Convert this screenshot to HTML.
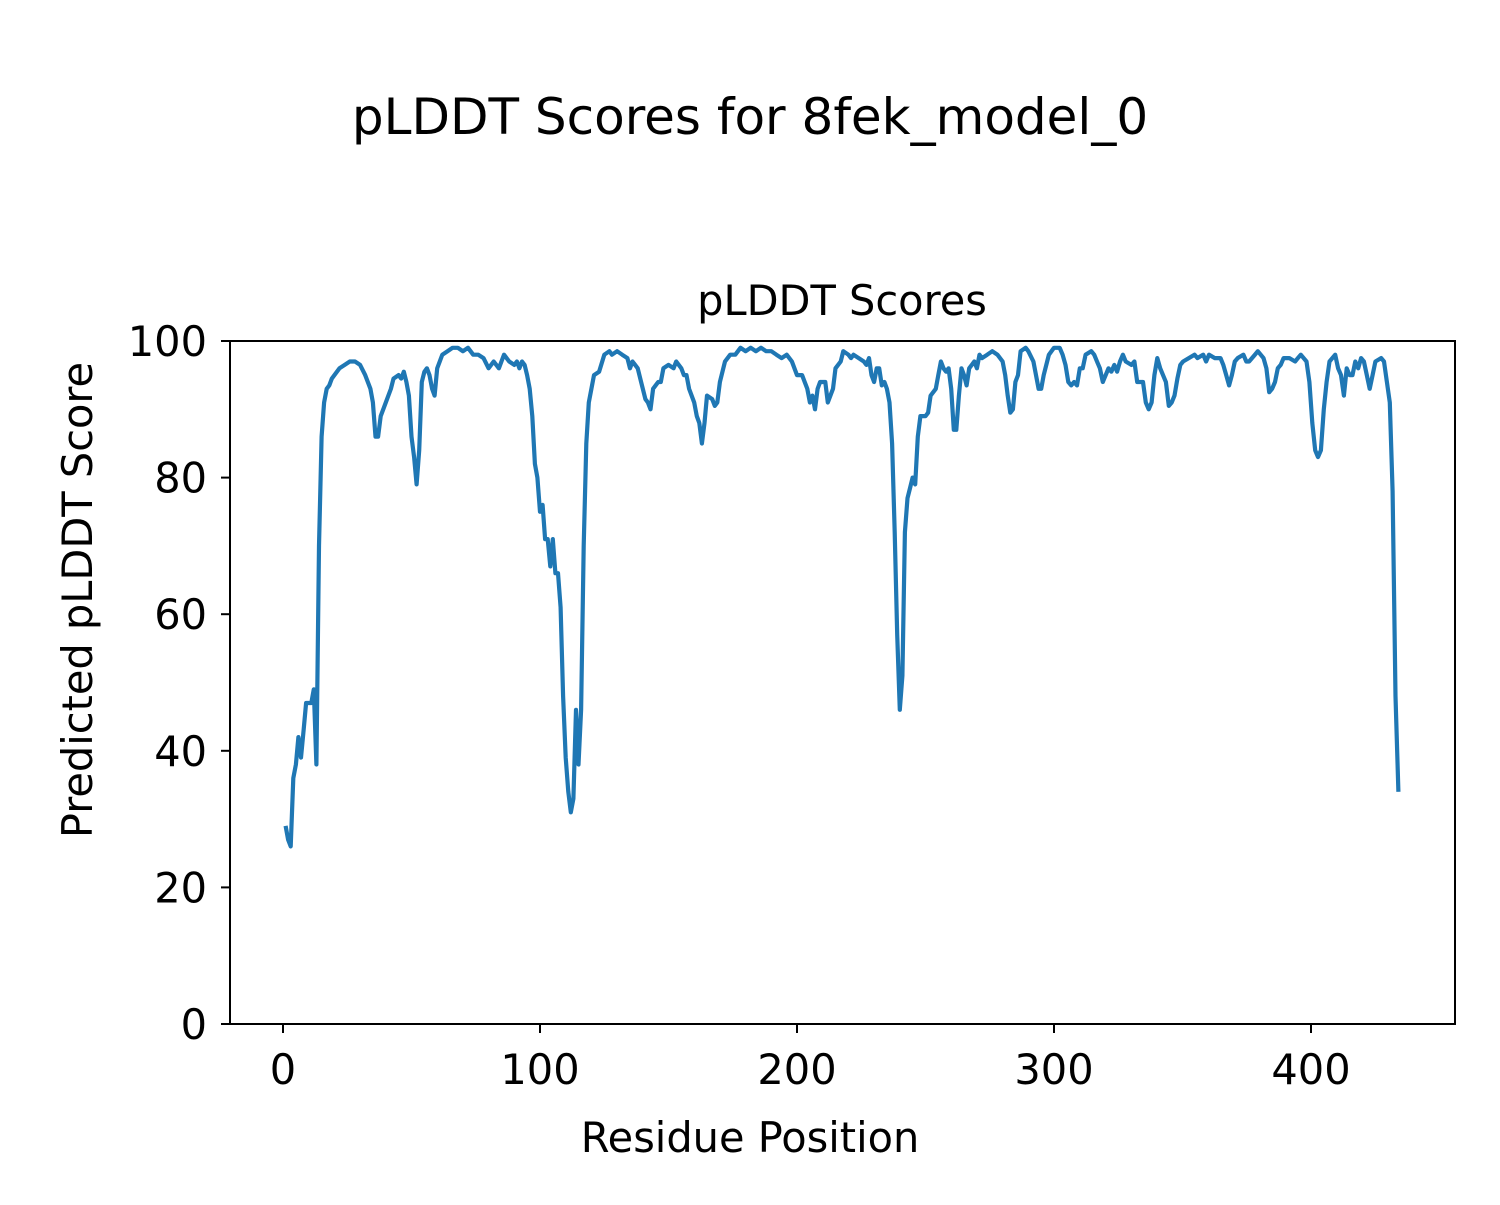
<!DOCTYPE html>
<html><head><meta charset="utf-8"><style>
html,body{margin:0;padding:0;background:#fff;}
svg text{font-family:"DejaVu Sans","Liberation Sans",sans-serif;fill:#000;}
</style></head><body>
<svg id="s" width="1500" height="1200" viewBox="0 0 1500 1200" xmlns="http://www.w3.org/2000/svg">
<rect width="1500" height="1200" fill="#fff"/>
<text x="750" y="134" font-size="50" text-anchor="middle">pLDDT Scores for 8fek_model_0</text>
<text x="842" y="315" font-size="41.5" text-anchor="middle">pLDDT Scores</text>
<g id="ticks" stroke="#000" stroke-width="2"></g>
<g id="labels" font-size="41.5"></g>
<polyline id="line" fill="none" stroke="#1f77b4" stroke-width="4.2" stroke-linejoin="round"/>
<rect x="230" y="341" width="1225" height="683" fill="none" stroke="#000" stroke-width="2"/>
<text x="750" y="1152" font-size="41.5" text-anchor="middle">Residue Position</text>
<text transform="translate(92,600) rotate(-90)" font-size="41.5" text-anchor="middle">Predicted pLDDT Score</text>
</svg>
<script>
var d=[1,29,2,27,3,26,4,36,5,38,6,42,7,39,8,43,9,47,10,47,11,47,12,49,13,38,14,70,15,86,16,91,17,93,18,93.5,19,94.5,20,95,22,96,24,96.5,26,97,28,97,30,96.5,32,95,34,93,35,91,36,86,37,86,38,89,40,91,42,93,43,94.5,45,95,46,94.5,47,95.5,48,94,49,92,50,86,51,83,52,79,53,84,54,94,55,95.5,56,96,57,95,58,93,59,92,60,96,62,98,64,98.5,66,99,68,99,70,98.5,72,99,74,98,76,98,78,97.5,80,96,82,97,84,96,86,98,88,97,90,96.5,91,97,92,96,93,97,94,96.5,95,95,96,93,97,89,98,82,99,80,100,75,101,76,102,71,103,71,104,67,105,71,106,66,107,66,108,61,109,48,110,39,111,34,112,31,113,33,114,46,115,38,116,46,117,70,118,85,119,91,120,93,121,95,123,95.5,125,98,127,98.5,128,98,130,98.5,132,98,134,97.5,135,96,136,97,138,96,140,93,141,91.5,142,91,143,90,144,93,146,94,147,94,148,96,150,96.5,152,96,153,97,155,96,156,95,157,95,158,93,160,91,161,89,162,88,163,85,164,88,165,92,167,91.5,168,90.5,169,91,170,94,172,97,174,98,176,98,178,99,180,98.5,182,99,184,98.5,186,99,188,98.5,190,98.5,192,98,194,97.5,196,98,198,97,200,95,202,95,203,94,204,93,205,91,206,92,207,90,208,93,209,94,211,94,212,91,213,92,214,93,215,96,217,97,218,98.5,220,98,221,97.5,222,98,224,97.5,226,97,227,96.5,228,97.5,229,95,230,94,231,96,232,96,233,93.5,234,94,235,93,236,91,237,85,238,72,239,57,240,46,241,51,242,72,243,77,244,78.5,245,80,246,79,247,86,248,89,250,89,251,89.5,252,92,254,93,255,95,256,97,257,96,258,95.5,259,96,260,93,261,87,262,87,263,92,264,96,265,95,266,93.5,267,96,268,96.5,269,97,270,96,271,98,272,97.5,274,98,276,98.5,278,98,280,97,281,95,282,92,283,89.5,284,90,285,94,286,95,287,98.5,289,99,290,98.5,292,97,294,93,295,93,296,95,298,98,300,99,302,99,303,98,304,96.5,305,94,306,93.5,307,94,308,93.5,309,96,310,96,311,98,313,98.5,314,98,315,97,316,96,317,94,318,95,319,96,320,95.5,321,96.5,322,95.5,323,97,324,98,325,97,327,96.5,328,97,329,94,331,94,332,91,333,90,334,91,335,95,336,97.5,337,96,339,94,340,90.5,341,91,342,92,343,94.5,344,96.5,345,97,347,97.5,349,98,350,97.5,352,98,353,97,354,98,356,97.5,358,97.5,359,96.5,360,95,361,93.5,362,95,363,97,364,97.5,366,98,367,97,368,97,370,98,371,98.5,373,97.5,374,96,375,92.5,376,93,377,94,378,96,379,96.5,380,97.5,382,97.5,384,97,385,97.5,386,98,388,97,389,94,390,88,391,84,392,83,393,84,394,90,395,94,396,97,398,98,399,96,400,95,401,92,402,96,403,95,404,95,405,97,406,96,407,97.5,408,97,409,95,410,93,411,95,412,97,414,97.5,415,97,416,94,417,91,418,78,419,48,420,34];
var p=[];
for(var i=0;i<d.length;i+=2){var t=d[i];if(t>300)t=300+(t-300)*134/120;p.push((283+t*2.57).toFixed(1)+","+(1024-d[i+1]*6.83).toFixed(1));}
document.getElementById('line').setAttribute('points',p.join(' '));
var ns="http://www.w3.org/2000/svg",tk=document.getElementById('ticks'),lb=document.getElementById('labels');
function mk(tag,a,par,txt){var e=document.createElementNS(ns,tag);for(var k in a)e.setAttribute(k,a[k]);if(txt!=null)e.textContent=txt;par.appendChild(e);}
for(var v=0;v<=400;v+=100){var x=283+v*2.57;mk('line',{x1:x,y1:1024,x2:x,y2:1033},tk);mk('text',{x:x,y:1084,'text-anchor':'middle'},lb,v);}
for(var v=0;v<=100;v+=20){var y=1024-v*6.83;mk('line',{x1:221,y1:y,x2:230,y2:y},tk);mk('text',{x:207,y:y+15,'text-anchor':'end'},lb,v);}
</script>
</body></html>
